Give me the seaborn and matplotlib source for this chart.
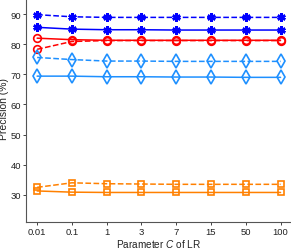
import numpy as np
import pandas as pd
import matplotlib
matplotlib.use('Agg')
import matplotlib.pyplot as plt
import seaborn as sns

sns.set_theme(style="ticks")
plt.rcParams['font.family'] = ['Liberation Sans', 'DejaVu Sans']
plt.rcParams['mathtext.fontset'] = 'custom'
plt.rcParams['mathtext.it'] = 'Liberation Sans:italic'
plt.rcParams['mathtext.rm'] = 'Liberation Sans'

c_labels = ['0.01', '0.1', '1', '3', '7', '15', '50', '100']

blue_star_dash = [89.8, 89.1, 88.9, 88.9, 88.9, 88.9, 88.9, 88.9]
blue_star_solid = [85.6, 85.0, 84.8, 84.8, 84.7, 84.7, 84.7, 84.7]
red_circle_solid = [82.0, 81.5, 81.3, 81.3, 81.3, 81.3, 81.3, 81.3]
red_circle_dash = [78.3, 80.9, 81.2, 81.2, 81.2, 81.2, 81.2, 81.2]
lb_diamond_dash = [75.6, 74.9, 74.4, 74.4, 74.3, 74.3, 74.3, 74.3]
lb_diamond_solid = [69.4, 69.4, 69.2, 69.2, 69.1, 69.1, 69.0, 69.0]
or_square_dash = [32.5, 34.0, 33.7, 33.6, 33.5, 33.5, 33.5, 33.5]
or_square_solid = [31.3, 30.9, 30.8, 30.8, 30.8, 30.8, 30.8, 30.8]

series = [
    (blue_star_dash, '#0000ff', (6, 2, 0), '--'),
    (blue_star_solid, '#0000ff', (6, 2, 0), '-'),
    (red_circle_solid, '#ff0000', 'o', '-'),
    (red_circle_dash, '#ff0000', 'o', '--'),
    (lb_diamond_dash, '#1e90ff', 'd', '--'),
    (lb_diamond_solid, '#1e90ff', 'd', '-'),
    (or_square_dash, '#ff8000', 's', '--'),
    (or_square_solid, '#ff8000', 's', '-'),
]
sizes = {'o': 5.5, 'd': 7.5, 's': 4.5}

fig = plt.figure(figsize=(2.91, 2.51), dpi=100)
ax = fig.add_axes([0.0893, 0.1116, 0.9107, 0.8884])
x = np.arange(len(c_labels))

for vals, col, mk, ls in series:
    if isinstance(mk, tuple):
        ms, mew = 6, 1.8
    else:
        ms, mew = sizes[mk], 1.2
    sns.lineplot(x=x, y=vals, ax=ax, color=col, linestyle=ls, linewidth=1.1,
                 marker=mk, markersize=ms, markeredgewidth=mew,
                 markeredgecolor=col, markerfacecolor='none',
                 dashes=(3, 2) if ls == '--' else None)

ax.set_xlim(-0.32, 7.3)
ax.set_ylim(21, 95)
ax.set_xticks(x)
ax.set_xticklabels(c_labels)
ax.set_yticks([30, 40, 50, 60, 70, 80, 90])
ax.tick_params(labelsize=6.8, length=2, width=0.6, colors='#222222', pad=1.5)
for s in ['top', 'right']:
    ax.spines[s].set_visible(False)
for s in ['left', 'bottom']:
    ax.spines[s].set_color('#555555')
    ax.spines[s].set_linewidth(0.8)
ax.set_ylabel('Precision (%)', fontsize=7.5, color='#222222')
ax.yaxis.set_label_coords(-0.063, 0.51)
ax.set_xlabel('Parameter $C$ of LR', fontsize=7.2, labelpad=1, color='#222222')
ax.grid(False)

fig.savefig('out.png', dpi=100)
